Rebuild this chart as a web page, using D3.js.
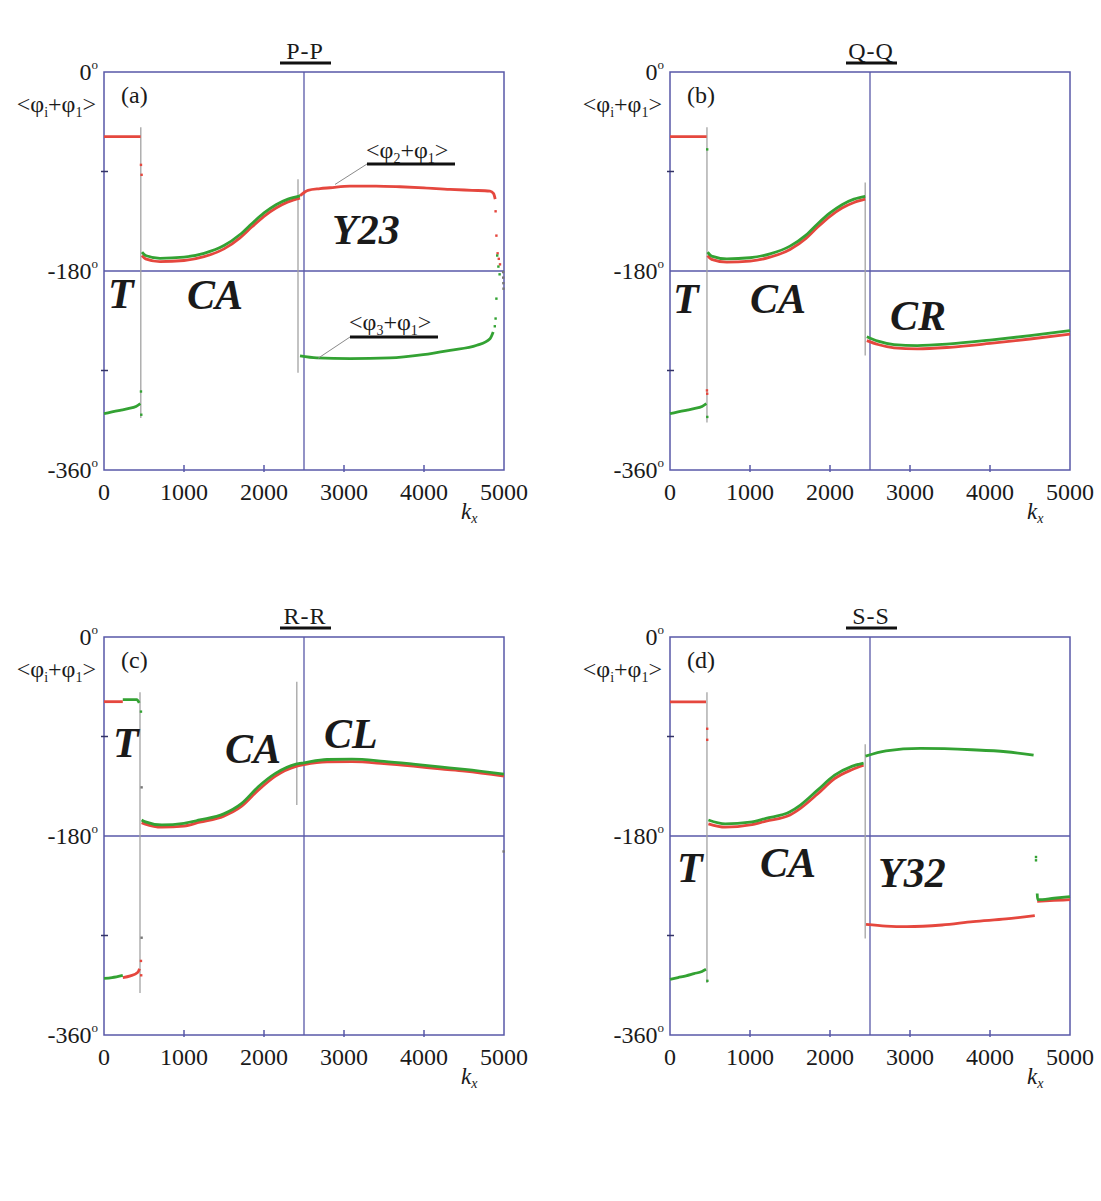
<!DOCTYPE html>
<html>
<head>
<meta charset="utf-8">
<script src="https://cdn.jsdelivr.net/npm/d3@7"></script>
<style>
  body { margin: 0; background: #fff; }
  svg { display: block; }
  text { font-family: "Liberation Serif", "Times New Roman", serif; fill: #1a1a1a; }
</style>
</head>
<body>
<svg id="chart" width="1101" height="1201"></svg>
<script>
// ---- axis content ----
const xTicks = [0, 1000, 2000, 3000, 4000, 5000];
const xMinorTicks = [1000, 2000, 3000, 4000];
const yTickLabels = [0, -180, -360];
const yMinorTicks = [-90, -270];
const panelTitles = ["P-P", "Q-Q", "R-R", "S-S"];
const panelTags = ["(a)", "(b)", "(c)", "(d)"];

// ---- (a) P-P : phase sums <phi_i + phi_1> (deg) versus k_x ----
const aRedT = [[0, -58.5], [250, -58.5], [458, -58.5]];
const aGreenT = [[0, -309], [100, -307.5], [200, -306], [300, -304.5], [400, -302.5], [455, -300]];
const aGreenCA = [[475, -163], [520, -166], [700, -168.5], [1000, -167.5], [1250, -164], [1500, -157], [1700, -147], [1850, -137], [2000, -127.5], [2150, -120], [2300, -115], [2450, -112]];
const aRedCA = [[475, -166], [520, -169], [700, -171.5], [1000, -170.5], [1250, -167], [1500, -160], [1700, -150], [1850, -140], [2000, -130.5], [2150, -123], [2300, -117.5], [2450, -114]];
const aRedY23 = [[2450, -112], [2550, -107], [2700, -105.5], [2825, -104.7], [3075, -103.2], [3400, -103.2], [3700, -103.8], [4000, -104.8], [4325, -106.2], [4600, -107], [4825, -107.7], [4870, -110], [4890, -115]];
const aGreenY23 = [[2450, -256.8], [2660, -258.6], [3075, -259.2], [3575, -258.6], [3990, -255.6], [4325, -251.7], [4660, -247.2], [4825, -241.2], [4865, -235.2]];
const aRedDots = [[462, -84], [470, -93], [4895, -126], [4905, -148], [4920, -164], [4935, -169], [4950, -174]];
const aGreenDots = [[462, -289], [466, -310], [4915, -166], [4930, -176], [4945, -183], [4905, -205], [4895, -223], [4885, -230]];
const aGreyDots = [[4990, -181], [4990, -186], [4992, -191], [4994, -196]];
const aGuides = [[[460, -50], [460, -313]], [[2425, -97], [2425, -272]]];

// ---- (b) Q-Q ----
const bRedT = [[0, -58.5], [250, -58.5], [458, -58.5]];
const bGreenT = [[0, -309], [100, -307.5], [200, -306], [300, -304.5], [400, -302.5], [455, -300]];
const bGreenCA = [[470, -163], [520, -166.5], [710, -169], [1000, -168], [1250, -164.5], [1500, -157.5], [1700, -147.5], [1850, -137], [2000, -127.5], [2150, -120], [2300, -115], [2440, -112.5]];
const bRedCA = [[470, -166], [520, -169.5], [710, -172], [1000, -171], [1250, -167.5], [1500, -160.5], [1700, -150.5], [1850, -140], [2000, -130.5], [2150, -123], [2300, -118], [2440, -115]];
const bGreenCR = [[2460, -239.4], [2600, -243.5], [2800, -246.5], [3090, -247.5], [3500, -246], [4000, -242.5], [4500, -238.5], [5000, -234]];
const bRedCR = [[2460, -243], [2600, -246.5], [2800, -249.5], [3090, -250.5], [3500, -249], [4000, -245.5], [4500, -241.5], [5000, -237]];
const bRedDots = [[462, -288], [465, -291]];
const bGreenDots = [[465, -70], [466, -312]];
const bGreyDots = [];
const bGuides = [[[462, -50], [462, -317]], [[2440, -100], [2440, -256.5]]];

// ---- (c) R-R ----
const cRedT = [[0, -58.5], [235, -58.5]];
const cRedTlow = [[235, -308], [330, -306.5], [420, -303.5], [445, -300]];
const cGreenT = [[235, -56.7], [410, -56.7], [440, -59.5]];
const cGreenTlow = [[0, -308.7], [100, -308], [235, -306]];
const cGreenCL = [[470, -165.5], [508, -167], [723, -170], [1000, -168.5], [1196, -165.5], [1497, -160], [1713, -151], [1928, -135.5], [2143, -123.4], [2401, -115], [2500, -113.8], [2788, -110.8], [3100, -110.5], [3500, -112.5], [3865, -115], [4200, -117.5], [4510, -119.8], [5000, -124]];
const cRedCL = [[470, -168], [508, -169], [723, -172], [1000, -171], [1196, -167.5], [1497, -162], [1713, -153.5], [1928, -138.5], [2143, -125.8], [2401, -117], [2500, -115.5], [2788, -113], [3100, -112.8], [3500, -114.5], [3865, -116.8], [4200, -119.3], [4510, -121.3], [5000, -125.8]];
const cRedDots = [[462, -293], [465, -306]];
const cGreenDots = [[462, -67.5]];
const cGreyDots = [[470, -272], [470, -136], [4995, -194]];
const cGuides = [[[450, -50], [450, -322]], [[2410, -40.5], [2410, -152]]];

// ---- (d) S-S ----
const dRedT = [[0, -58.7], [250, -58.7], [450, -58.7]];
const dGreenT = [[0, -309.6], [100, -308], [200, -306.5], [300, -304.5], [400, -302.5], [450, -300.6]];
const dGreenCA = [[480, -165.5], [690, -169], [1000, -167.5], [1200, -164], [1500, -158], [1630, -152], [1844, -138.5], [2058, -125], [2273, -117], [2420, -114]];
const dRedCA = [[480, -169], [690, -172], [1000, -170], [1200, -166.5], [1500, -161], [1630, -155], [1844, -142], [2058, -128], [2273, -120], [2420, -116]];
const dGreenY32 = [[2444, -107.8], [2700, -103], [3130, -100.8], [3773, -102], [4200, -103.8], [4545, -106.9]];
const dRedY32 = [[2450, -260], [2700, -261.5], [2960, -262], [3400, -260.5], [3790, -257.4], [4200, -255], [4560, -252]];
const dGreenEnd = [[4590, -232], [4595, -237.6], [4800, -236.3], [5000, -234.9]];
const dRedEnd = [[4590, -239], [4800, -238.3], [5000, -237.6]];
const dRedDots = [[465, -83], [465, -93]];
const dGreenDots = [[467, -311], [4575, -199], [4575, -202]];
const dGreyDots = [];
const dGuides = [[[462, -50], [462, -313]], [[2440, -97], [2440, -272.7]]];

// curves per panel, drawn red first so the green trace sits on top
const panelCurves = [
  { red: [aRedT, aRedCA, aRedY23], green: [aGreenT, aGreenCA, aGreenY23], redDots: aRedDots, greenDots: aGreenDots, greyDots: aGreyDots, guides: aGuides },
  { red: [bRedT, bRedCA, bRedCR], green: [bGreenT, bGreenCA, bGreenCR], redDots: bRedDots, greenDots: bGreenDots, greyDots: bGreyDots, guides: bGuides },
  { red: [cRedT, cRedTlow, cRedCL], green: [cGreenT, cGreenTlow, cGreenCL], redDots: cRedDots, greenDots: cGreenDots, greyDots: cGreyDots, guides: cGuides },
  { red: [dRedT, dRedCA, dRedY32, dRedEnd], green: [dGreenT, dGreenCA, dGreenY32, dGreenEnd], redDots: dRedDots, greenDots: dGreenDots, greyDots: dGreyDots, guides: dGuides }
];

// regime labels inside each panel: [text, px from left, baseline px from top]
const regimeLabels = [
  [["T", 4, 236], ["CA", 83, 237], ["Y23", 228, 172]],
  [["T", 3, 241], ["CA", 80, 241], ["CR", 220, 258]],
  [["T", 9, 120], ["CA", 121, 126], ["CL", 220, 111]],
  [["T", 7, 245], ["CA", 90, 240], ["Y32", 208, 250]]
];

// ---- layout ----
const W = 400, H = 398;
const origins = [[104, 72], [670, 72], [104, 637], [670, 637]];
const RED = "#e5473e", GREEN = "#33a233", AXIS = "#5858a8", GUIDE = "#a3a3a3";

const svg = d3.select("#chart");
const x = d3.scaleLinear().domain([0, 5000]).range([0, W]);
const y = d3.scaleLinear().domain([0, -360]).range([0, H]);
const line = d3.line().x(d => x(d[0])).y(d => y(d[1])).curve(d3.curveMonotoneX);

function phaseLabel(sel, sub, big, small) {
  sel.append("tspan").text("<φ");
  sel.append("tspan").attr("font-size", small).attr("dy", 5).text(sub);
  sel.append("tspan").attr("font-size", big).attr("dy", -5).text("+φ");
  sel.append("tspan").attr("font-size", small).attr("dy", 5).text("1");
  sel.append("tspan").attr("font-size", big).attr("dy", -5).text(">");
}

panelCurves.forEach((pc, i) => {
  const [ox, oy] = origins[i];
  const g = svg.append("g").attr("transform", `translate(${ox},${oy})`);

  // title with underline
  g.append("text").attr("x", W / 2 + 1).attr("y", -13).attr("text-anchor", "middle")
    .attr("font-size", 24).attr("letter-spacing", 1).text(panelTitles[i]);
  g.append("line").attr("x1", W / 2 - 24).attr("x2", W / 2 + 27).attr("y1", -9).attr("y2", -9)
    .attr("stroke", "#111").attr("stroke-width", 2.8);

  // frame and the two reference lines (kx = 2500, phase = -180)
  g.append("rect").attr("width", W).attr("height", H).attr("fill", "none")
    .attr("stroke", AXIS).attr("stroke-width", 1.5);
  g.append("line").attr("x1", x(2500)).attr("x2", x(2500)).attr("y1", 0).attr("y2", H)
    .attr("stroke", AXIS).attr("stroke-width", 1.3);
  g.append("line").attr("x1", 0).attr("x2", W).attr("y1", y(-180)).attr("y2", y(-180))
    .attr("stroke", AXIS).attr("stroke-width", 1.3);

  // minor ticks
  g.selectAll(".xt").data(xMinorTicks).join("line")
    .attr("x1", d => x(d)).attr("x2", d => x(d)).attr("y1", H - 5).attr("y2", H + 2)
    .attr("stroke", AXIS).attr("stroke-width", 1.5);
  g.selectAll(".yt").data(yMinorTicks).join("line")
    .attr("x1", -3).attr("x2", 4).attr("y1", d => y(d)).attr("y2", d => y(d))
    .attr("stroke", "#333366").attr("stroke-width", 1.5);

  // x tick labels
  g.selectAll(".xl").data(xTicks).join("text")
    .attr("x", d => x(d)).attr("y", H + 30).attr("text-anchor", "middle")
    .attr("font-size", 24).text(d => d);
  const kx = g.append("text").attr("x", 357).attr("y", H + 49).attr("font-size", 23);
  kx.append("tspan").attr("font-style", "italic").text("k");
  kx.append("tspan").attr("font-style", "italic").attr("font-size", 14).attr("dy", 4).text("x");

  // y tick labels with degree marks
  g.selectAll(".yl").data(yTickLabels).join("text")
    .attr("x", -6).attr("y", d => y(d) + 8).attr("text-anchor", "end").attr("font-size", 24)
    .each(function (d) {
      const t = d3.select(this);
      t.append("tspan").text(d);
      t.append("tspan").attr("font-size", 13).attr("dy", -11).text("o");
    });

  // y axis label <phi_i + phi_1>
  const yl = g.append("text").attr("x", -8).attr("y", 40).attr("text-anchor", "end").attr("font-size", 24);
  phaseLabel(yl, "i", 24, 14);

  // panel tag
  g.append("text").attr("x", 17).attr("y", 31).attr("font-size", 24).text(panelTags[i]);

  // thin grey guide lines at regime boundaries
  pc.guides.forEach(seg => {
    g.append("line").attr("x1", x(seg[0][0])).attr("x2", x(seg[1][0]))
      .attr("y1", y(seg[0][1])).attr("y2", y(seg[1][1]))
      .attr("stroke", GUIDE).attr("stroke-width", 1.3);
  });

  // curves
  pc.red.forEach(c => g.append("path").attr("d", line(c)).attr("fill", "none")
    .attr("stroke", RED).attr("stroke-width", 2.8));
  pc.green.forEach(c => g.append("path").attr("d", line(c)).attr("fill", "none")
    .attr("stroke", GREEN).attr("stroke-width", 2.8));

  // isolated points at transitions
  const dots = (arr, col) => g.selectAll(null).data(arr).join("rect")
    .attr("x", d => x(d[0]) - 1.2).attr("y", d => y(d[1]) - 1.2)
    .attr("width", 2.4).attr("height", 2.4).attr("fill", col);
  dots(pc.redDots, RED);
  dots(pc.greenDots, GREEN);
  dots(pc.greyDots, "#777");

  // regime labels
  regimeLabels[i].forEach(([t, lx, ly]) => {
    g.append("text").attr("x", lx).attr("y", ly).attr("font-size", 42)
      .attr("font-weight", "bold").attr("font-style", "italic").text(t);
  });

  // branch annotations in (a)
  if (i === 0) {
    const notes = [
      { sub: "2", tx: 262, ty: 86, ux: [263, 351], uy: 92, tip: [2888, -101.7] },
      { sub: "3", tx: 245, ty: 258, ux: [246, 334], uy: 265, tip: [2675, -259] }
    ];
    notes.forEach(n => {
      const t = g.append("text").attr("x", n.tx).attr("y", n.ty).attr("font-size", 24);
      phaseLabel(t, n.sub, 24, 14);
      g.append("line").attr("x1", n.ux[0]).attr("x2", n.ux[1]).attr("y1", n.uy).attr("y2", n.uy)
        .attr("stroke", "#111").attr("stroke-width", 2.8);
      g.append("line").attr("x1", n.ux[0]).attr("y1", n.uy)
        .attr("x2", x(n.tip[0])).attr("y2", y(n.tip[1]))
        .attr("stroke", "#8a8a8a").attr("stroke-width", 1);
    });
  }
});
</script>
</body>
</html>
